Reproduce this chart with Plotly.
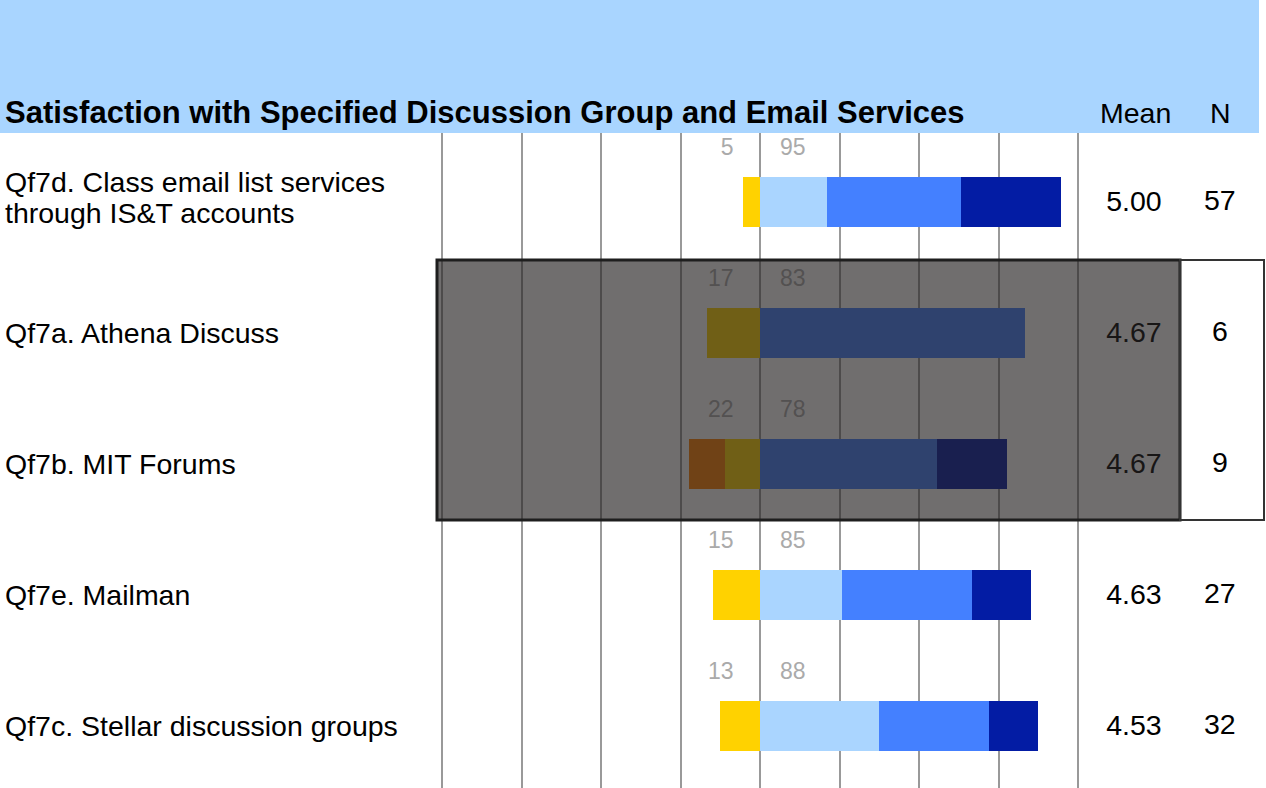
import plotly.graph_objects as go

# survey items, top to bottom
categories = [
    "Qf7d. Class email list services<br>through IS&T accounts",
    "Qf7a. Athena Discuss",
    "Qf7b. MIT Forums",
    "Qf7e. Mailman",
    "Qf7c. Stellar discussion groups",
]
# percent of respondents per answer
dissatisfied = [0, 0, 11.1, 0, 0]
somewhat_dissatisfied = [5.3, 16.7, 11.1, 14.8, 12.5]
somewhat_satisfied = [21.1, 0, 0, 25.9, 37.5]
satisfied = [42.1, 83.3, 55.6, 40.7, 34.4]
very_satisfied = [31.6, 0, 22.2, 18.5, 15.6]
neg_labels = ["5", "17", "22", "15", "13"]
pos_labels = ["95", "83", "78", "85", "88"]
means = ["5.00", "4.67", "4.67", "4.63", "4.53"]
ns = ["57", "6", "9", "27", "32"]

FONT = "Liberation Sans, Arial, sans-serif"
FS = 28.5
W, H = 1266, 788
TOP = 133
PX = 3.18          # pixels per percent
CENTER = 760       # pixel of the 0% line
ROW0, ROWSTEP = 202, 131

rows = list(range(len(categories)))
BAR_W = 50 / ROWSTEP

fig = go.Figure()

# negatives stack outward from zero: first trace sits next to the axis
for vals, color, name in [
    (somewhat_dissatisfied, "#FFD200", "Somewhat dissatisfied"),
    (dissatisfied, "#FF7F00", "Dissatisfied"),
]:
    fig.add_trace(go.Bar(
        y=rows, x=[-v for v in vals], orientation="h", width=BAR_W,
        marker=dict(color=color, line_width=0), name=name, showlegend=False,
    ))
for vals, color, name in [
    (somewhat_satisfied, "#AAD5FF", "Somewhat satisfied"),
    (satisfied, "#4480FF", "Satisfied"),
    (very_satisfied, "#031CA4", "Very satisfied"),
]:
    fig.add_trace(go.Bar(
        y=rows, x=vals, orientation="h", width=BAR_W,
        marker=dict(color=color, line_width=0), name=name, showlegend=False,
    ))

lab_y = [r - 53 / ROWSTEP for r in rows]
fig.add_trace(go.Scatter(
    x=[-8.3] * len(rows), y=lab_y, mode="text", text=neg_labels,
    textposition="middle left", textfont=dict(family=FONT, size=23, color="#AAAAAA"),
    showlegend=False, hoverinfo="skip",
))
fig.add_trace(go.Scatter(
    x=[6.3] * len(rows), y=lab_y, mode="text", text=pos_labels,
    textposition="middle right", textfont=dict(family=FONT, size=23, color="#AAAAAA"),
    showlegend=False, hoverinfo="skip",
))
# mean column (sits under the highlight overlay)
fig.add_trace(go.Scatter(
    x=[(1134 - CENTER) / PX] * len(rows), y=[r + 2 / ROWSTEP for r in rows],
    mode="text", text=means, textposition="middle center",
    textfont=dict(family=FONT, size=FS, color="#000000"),
    showlegend=False, hoverinfo="skip",
))

# highlight overlay on selected rows
y0 = (260 - ROW0) / ROWSTEP
y1 = (520 - ROW0) / ROWSTEP
fig.add_shape(type="rect", xref="x", yref="y", layer="above",
              x0=(437 - CENTER) / PX, x1=(1180 - CENTER) / PX, y0=y0, y1=y1,
              fillcolor="rgba(36,33,33,0.655)", line=dict(color="#1E1E1E", width=3))
fig.add_shape(type="rect", xref="x", yref="y", layer="above",
              x0=(1180 - CENTER) / PX, x1=(1264 - CENTER) / PX, y0=y0, y1=y1,
              fillcolor="rgba(0,0,0,0)", line=dict(color="#333333", width=2))

# header band
fig.add_shape(type="rect", xref="paper", yref="paper", layer="below",
              x0=0, x1=1259 / W, y0=1, y1=1 + TOP / (H - TOP),
              fillcolor="#A9D5FF", line_width=0)

head_y = 1 + 20 / (H - TOP)
ann = []
ann.append(dict(xref="paper", yref="paper", x=3 / W, y=head_y,
                xanchor="left", yanchor="middle", showarrow=False,
                text="<b>Satisfaction with Specified Discussion Group and Email Services</b>",
                font=dict(family=FONT, size=31, color="#000000")))
ann.append(dict(xref="paper", yref="paper", x=1135 / W, y=head_y,
                xanchor="center", yanchor="middle", showarrow=False, text="Mean",
                font=dict(family=FONT, size=FS, color="#000000")))
ann.append(dict(xref="paper", yref="paper", x=1220 / W, y=head_y,
                xanchor="center", yanchor="middle", showarrow=False, text="N",
                font=dict(family=FONT, size=FS, color="#000000")))
for r, cat, n in zip(rows, categories, ns):
    lines = cat.split("<br>")
    # tight line spacing (~31px) as in the source
    offs = [0.0] if len(lines) == 1 else [-20 / ROWSTEP, 11 / ROWSTEP]
    for line, off in zip(lines, offs):
        ann.append(dict(xref="paper", yref="y", x=3 / W, y=r + off, xanchor="left",
                        yanchor="middle", showarrow=False, text=line,
                        font=dict(family=FONT, size=FS, color="#000000")))
    ann.append(dict(xref="x", yref="y", x=(1220 - CENTER) / PX, y=r - 2 / ROWSTEP,
                    xanchor="center", yanchor="middle", showarrow=False, text=n,
                    font=dict(family=FONT, size=FS, color="#000000")))

fig.update_layout(
    width=W, height=H,
    margin=dict(l=0, r=0, t=TOP, b=0, pad=0),
    paper_bgcolor="white", plot_bgcolor="white",
    barmode="relative", bargap=0,
    showlegend=False,
    annotations=ann,
    xaxis=dict(range=[-100 - 442 / PX, 100 + (W - 1078) / PX],
               tickvals=[-100, -75, -50, -25, 0, 25, 50, 75, 100],
               showticklabels=False, showgrid=True, gridcolor="#999999",
               gridwidth=2, zeroline=False, showline=False, fixedrange=True),
    yaxis=dict(range=[(H - TOP - (ROW0 - TOP)) / ROWSTEP, -(ROW0 - TOP) / ROWSTEP],
               showticklabels=False, showgrid=False, zeroline=False,
               showline=False, fixedrange=True),
)

fig.write_html("out.html", config={"displayModeBar": False},
               post_script="document.body.style.margin='0px';")
